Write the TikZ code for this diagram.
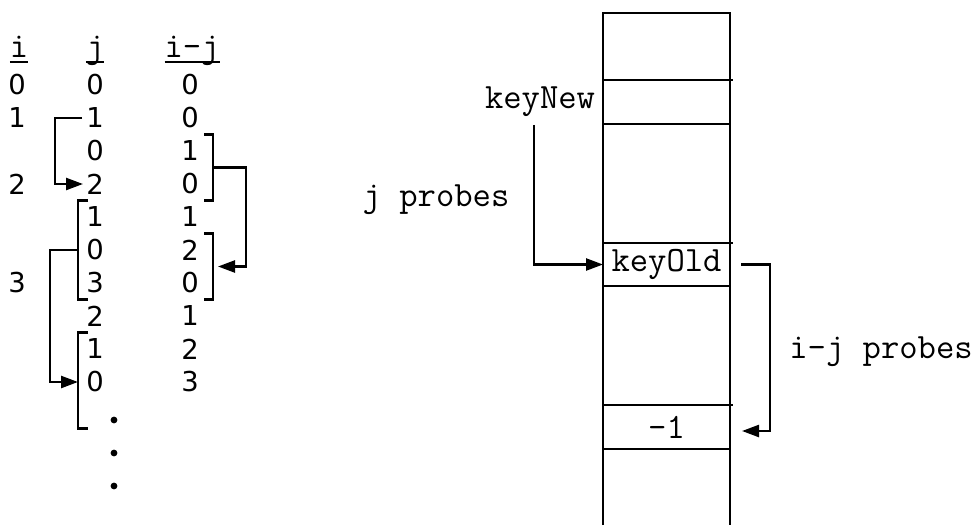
\documentclass[tikz,border=0pt]{standalone}
\usepackage{fontspec}
\newfontfamily\numfont{DejaVu Sans}
\usepackage{tikz}
\usetikzlibrary{arrows.meta, positioning, calc}

\begin{document}
\begin{tikzpicture}[x=0.5pt,y=-0.5pt,line width=1.2pt,every node/.style={inner sep=0pt,outer sep=0pt}]
\tikzstyle{num}=[font=\numfont\fontsize{13.7}{16}\selectfont,minimum height=16.5pt]
\tikzstyle{ival}=[num]
\tikzstyle{jval}=[num,minimum width=17pt]
\tikzstyle{dval}=[num,minimum width=23pt]
\tikzstyle{code}=[font=\ttfamily\fontsize{17.8}{20}\selectfont]
\tikzstyle{cell}=[draw,code,minimum width=63.5pt]
\tikzstyle{tip}=[-{Triangle[length=8.5pt,width=6pt]}]

\useasboundingbox (0,0) rectangle (980,525);

% headers of the three columns
\node (hi) [code,anchor=base] at (19,57) {i};
\node (hj) [code,anchor=base] at (95,57) {j};
\node (hd) [code,anchor=base] at (192,57) {i-j};
\foreach \h in {hi,hj,hd}
  \draw [line width=1pt] ([yshift=-2.5pt]\h.base west) -- ([yshift=-2.5pt]\h.base east);

% values of i, j and i-j
\foreach \v/\r in {0/0,1/1,2/3,3/6}
  \node (i\v) [ival] at (17,85+33*\r) {\v};
\foreach \v [count=\k from 0] in {0,1,0,2,1,0,3,2,1,0}
  \node (j\k) [jval] at (95,85+33*\k) {\v};
\foreach \v [count=\k from 0] in {0,0,1,0,1,2,0,1,2,3}
  \node (d\k) [dval] at (190,85+33*\k) {\v};
\foreach \k in {0,1,2}
  \fill (114,420+33*\k) circle (1.7pt);

% brackets on the i-j column
\draw ([xshift=-4.5pt]d2.north east) -- (d2.north east) -- (d3.south east) -- ++(-9,0);
\draw ([xshift=-4.5pt]d5.north east) -- (d5.north east) -- (d6.south east) -- ++(-9,0);
\draw [tip,shorten >=2.5pt] (d2.south east) -- ++(33,0) |- (d5.south east);

% brackets on the j column
\draw ([xshift=5pt]j4.north west) -- (j4.north west) -- (j6.south west) -- ++(10,0);
\draw ([xshift=5pt]j8.north west) -- (j8.north west) -- ([yshift=-15pt]j9.south west) -- ++(10,0);
\draw [tip] ([xshift=2pt]j1.west) -- ++(-27,0) |- ([xshift=2.5pt]j3.west);
\draw [tip] (j5.west) -- ++(-28,0) |- (j9.west);

% the table
\draw (603,525) -- (603,13) -- (730,13) -- (730,525);
\node (cNew) [cell,minimum height=22pt] at (666.5,102) {};
\node (cOld) [cell,minimum height=21.5pt] at (666.5,264.5) {keyOld};
\node (cNeg) [cell,minimum height=22pt] at (666.5,427) {-1};
\foreach \c in {cNew,cOld,cNeg}
  \draw (\c.north east) -- ++(3,0);

\node (lblNew) [code,left=4pt of cNew] {keyNew};
\node (jpr) [code] at (436,200) {j probes};
\node (ijpr) [code] at (881,352) {i-j probes};

\draw [tip] ([xshift=-3pt,yshift=-4pt]lblNew.south) |- (cOld.west);
\draw [tip] ([xshift=5.5pt]cOld.east) -- ++(29,0) |- ([xshift=6pt,yshift=-2pt]cNeg.east);
\end{tikzpicture}
\end{document}
